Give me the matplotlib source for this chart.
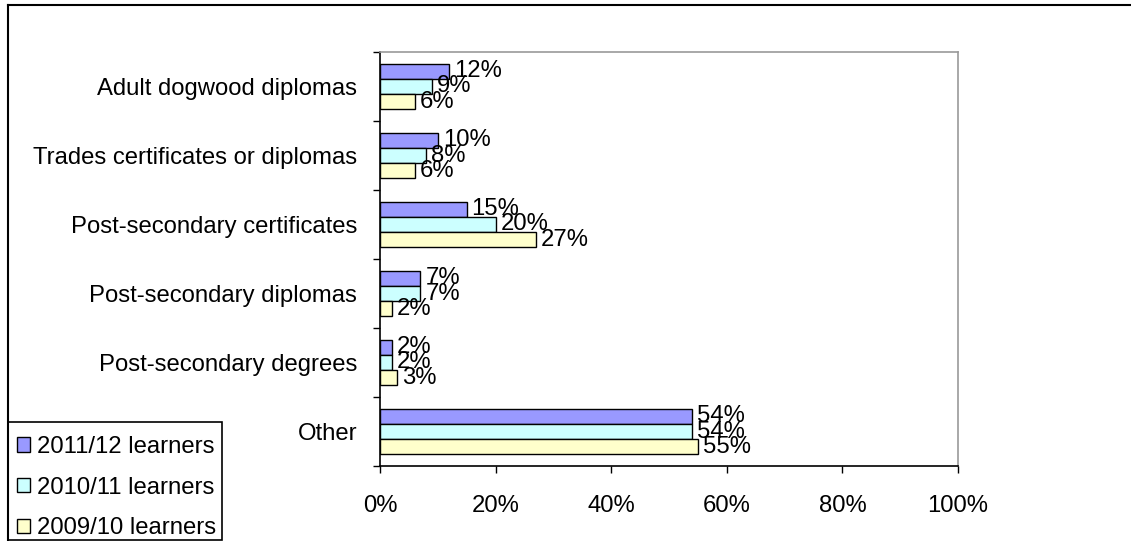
import matplotlib
matplotlib.use("Agg")
import matplotlib.pyplot as plt
from matplotlib.patches import Patch, Rectangle
import numpy as np

plt.rcParams['font.family'] = ['Liberation Sans', 'DejaVu Sans']

categories = ["Adult dogwood diplomas", "Trades certificates or diplomas",
              "Post-secondary certificates", "Post-secondary diplomas",
              "Post-secondary degrees", "Other"]
series_names = ["2011/12 learners", "2010/11 learners", "2009/10 learners"]
v2011 = [12, 10, 15, 7, 2, 54]
v2010 = [9, 8, 20, 7, 2, 54]
v2009 = [6, 6, 27, 2, 3, 55]
colors = ["#9999FF", "#CCFFFF", "#FFFFCC"]
xticks = [0, 20, 40, 60, 80, 100]

FS = 17.2
W, H = 1131, 541
fig = plt.figure(figsize=(W / 100, H / 100), dpi=100)

# outer chart border (left and top)
fig.add_artist(plt.Line2D([8 / W, 8 / W], [0, 1 - 5 / H], transform=fig.transFigure, color='black', lw=1.5))
fig.add_artist(plt.Line2D([8 / W, 1], [1 - 5 / H, 1 - 5 / H], transform=fig.transFigure, color='black', lw=1.5))

left, right, top, bottom = 380, 958, 52, 466
ax = fig.add_axes([left / W, 1 - bottom / H, (right - left) / W, (bottom - top) / H])

n = len(categories)
y = np.arange(n)
bh = 0.218
series = [v2011, v2010, v2009]
for i, (vals, c, name) in enumerate(zip(series, colors, series_names)):
    pos = y + (i - 1) * bh
    ax.barh(pos, vals, height=bh, color=c, edgecolor='black', linewidth=1.0, label=name)
    for p, v in zip(pos, vals):
        ax.annotate(f"{v}%", xy=(v, p), xytext=(3.5, 0), textcoords='offset points',
                    va='center', ha='left', fontsize=FS)

ax.set_ylim(n - 0.5, -0.5)
ax.set_xlim(0, 100)
ax.set_xticks(xticks)
ax.set_xticklabels([f"{t}%" for t in xticks], fontsize=FS)
ax.set_yticks(np.arange(n + 1) - 0.5, minor=False)
ax.set_yticklabels([])
ax.set_yticks(y, minor=True)
ax.set_yticklabels(categories, minor=True, fontsize=FS)
ax.tick_params(axis='y', which='minor', length=0, pad=16.5)
ax.tick_params(axis='y', which='major', length=5, direction='out', width=1)
ax.tick_params(axis='x', length=5, direction='out', width=1, pad=16)
for s in ['top', 'right']:
    ax.spines[s].set_color('#999999')
    ax.spines[s].set_linewidth(1.2)
for s in ['left', 'bottom']:
    ax.spines[s].set_color('black')
    ax.spines[s].set_linewidth(1.2)

# legend box
lx0, ly0, lx1, ly1 = 8, 422, 222, 540
fig.add_artist(Rectangle((lx0 / W, 1 - ly1 / H), (lx1 - lx0) / W, (ly1 - ly0) / H,
                         transform=fig.transFigure, fill=False, edgecolor='black', lw=1.2))
handles = [Patch(facecolor=c, edgecolor='black', label=nm) for c, nm in zip(colors, series_names)]
leg = fig.legend(handles=handles, loc='upper left', bbox_to_anchor=((lx0 - 3) / W, 1 - (ly0 + 2) / H),
                 frameon=False, fontsize=FS, handlelength=0.55, handleheight=0.55,
                 handletextpad=0.3, labelspacing=0.78, borderaxespad=0.0, borderpad=0.5)

fig.savefig("out.png", dpi=100)
